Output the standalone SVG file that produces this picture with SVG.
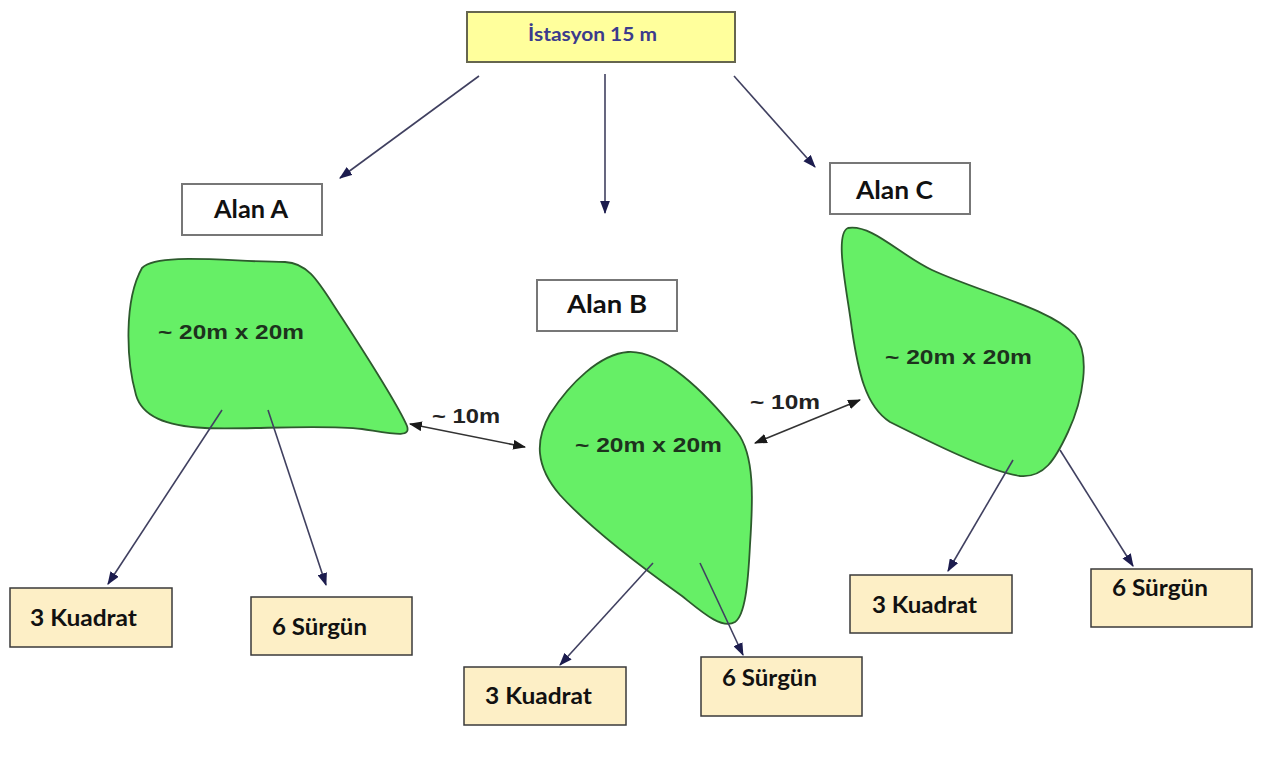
<svg xmlns="http://www.w3.org/2000/svg" width="1262" height="763" viewBox="0 0 1262 763">
<defs>
<marker id="ah" viewBox="0 0 12 9" refX="11" refY="4.5" markerWidth="13" markerHeight="10" markerUnits="userSpaceOnUse" orient="auto-start-reverse">
<path d="M0,0 L12,4.5 L0,9 Z" fill="#1c1c4e"/>
</marker>
<marker id="ahk" viewBox="0 0 12 9" refX="11" refY="4.5" markerWidth="13" markerHeight="10" markerUnits="userSpaceOnUse" orient="auto-start-reverse">
<path d="M0,0 L12,4.5 L0,9 Z" fill="#1a1a1a"/>
</marker>
</defs>
<style>
.lbl{font-family:"Lato","Open Sans","Liberation Sans",sans-serif;font-weight:bold;fill:#111;}
.area{font-family:"Lato","Open Sans","Liberation Sans",sans-serif;font-weight:bold;font-size:24px;fill:#111;}
.dim{font-family:"Liberation Sans","Arial",sans-serif;font-weight:bold;font-size:21px;fill:#1d321d;}
.dist{font-family:"Liberation Sans","Arial",sans-serif;font-weight:bold;font-size:20px;fill:#222;}
.blob{fill:#66ef66;stroke:#2d5a2d;stroke-width:1.8;}
.abox{fill:#ffffff;stroke:#777;stroke-width:2;}
.rbox{fill:#fdefc6;stroke:#3a3a3a;stroke-width:1.5;}
.conn{stroke:#404060;stroke-width:1.6;fill:none;marker-end:url(#ah);}
.dbl{stroke:#333;stroke-width:1.6;fill:none;marker-start:url(#ahk);marker-end:url(#ahk);}
</style>
<rect width="1262" height="763" fill="#ffffff"/>

<g id="blobA">
<path class="blob" d="M142,268 C158,252 232,262 285,262 C310,263 320,285 342,318 C366,355 398,405 407,426 C411,438 395,434 362,429 C320,424 245,430 205,428 C165,426 142,416 136,395 C126,360 124,300 142,268 Z"/>
<text class="dim" x="158" y="339" textLength="146" lengthAdjust="spacingAndGlyphs">~ 20m x 20m</text>
</g>
<g id="blobB">
<path class="blob" d="M628,352 C662,350 705,392 737,432 C755,455 753,500 750,545 C748,585 745,615 735,622 C722,630 702,612 682,596 C640,566 592,530 560,495 C535,466 535,440 550,414 C570,383 600,354 628,352 Z"/>
<text class="dim" x="575" y="452" textLength="147" lengthAdjust="spacingAndGlyphs">~ 20m x 20m</text>
</g>
<g id="blobC">
<path class="blob" d="M848,228 C872,224 900,255 932,270 C982,293 1050,308 1075,335 C1091,355 1083,400 1068,432 C1055,460 1044,478 1020,476 C990,472 930,442 890,422 C865,406 858,370 852,330 C847,290 834,234 848,228 Z"/>
<text class="dim" x="885" y="364" textLength="147" lengthAdjust="spacingAndGlyphs">~ 20m x 20m</text>
</g>

<g id="connectors">
<line class="conn" x1="479" y1="76" x2="340" y2="178"/>
<line class="conn" x1="605" y1="74" x2="605" y2="213"/>
<line class="conn" x1="734" y1="76" x2="815" y2="167"/>
<line class="conn" x1="222" y1="410" x2="108" y2="584"/>
<line class="conn" x1="268" y1="410" x2="326" y2="585"/>
<line class="conn" x1="653" y1="563" x2="560" y2="665"/>
<line class="conn" x1="700" y1="563" x2="743" y2="655"/>
<line class="conn" x1="1013" y1="460" x2="948" y2="571"/>
<line class="conn" x1="1060" y1="450" x2="1133" y2="566"/>
<line class="dbl" x1="410" y1="424" x2="525" y2="447"/>
<line class="dbl" x1="755" y1="443" x2="860" y2="400"/>
<text class="dist" x="432" y="423" textLength="68" lengthAdjust="spacingAndGlyphs">~ 10m</text>
<text class="dist" x="750" y="409" textLength="70" lengthAdjust="spacingAndGlyphs">~ 10m</text>
</g>

<g id="station">
<rect x="467" y="12" width="268" height="50" fill="#ffff9c" stroke="#66664f" stroke-width="2"/>
<text class="lbl" x="528" y="41" font-size="19" textLength="129" lengthAdjust="spacingAndGlyphs" style="fill:#3b3b8c">İstasyon 15 m</text>
</g>
<g id="alanA">
<rect class="abox" x="182" y="184" width="140" height="51"/>
<text class="area" x="214" y="218" textLength="74" lengthAdjust="spacingAndGlyphs">Alan A</text>
</g>
<g id="alanB">
<rect class="abox" x="537" y="280" width="140" height="51"/>
<text class="area" x="567" y="313" textLength="80" lengthAdjust="spacingAndGlyphs">Alan B</text>
</g>
<g id="alanC">
<rect class="abox" x="830" y="163" width="140" height="51"/>
<text class="area" x="856" y="199" textLength="77" lengthAdjust="spacingAndGlyphs">Alan C</text>
</g>

<g id="kuadratA">
<rect class="rbox" x="10" y="588" width="162" height="59"/>
<text class="lbl" x="30" y="626" font-size="22" textLength="107" lengthAdjust="spacingAndGlyphs">3 Kuadrat</text>
</g>
<g id="surgunA">
<rect class="rbox" x="251" y="597" width="161" height="58"/>
<text class="lbl" x="272" y="635" font-size="22" textLength="95" lengthAdjust="spacingAndGlyphs">6 Sürgün</text>
</g>
<g id="kuadratB">
<rect class="rbox" x="464" y="667" width="162" height="58"/>
<text class="lbl" x="485" y="704" font-size="22" textLength="107" lengthAdjust="spacingAndGlyphs">3 Kuadrat</text>
</g>
<g id="surgunB">
<rect class="rbox" x="701" y="657" width="161" height="59"/>
<text class="lbl" x="722" y="686" font-size="22" textLength="95" lengthAdjust="spacingAndGlyphs">6 Sürgün</text>
</g>
<g id="kuadratC">
<rect class="rbox" x="850" y="575" width="162" height="58"/>
<text class="lbl" x="872" y="613" font-size="22" textLength="105" lengthAdjust="spacingAndGlyphs">3 Kuadrat</text>
</g>
<g id="surgunC">
<rect class="rbox" x="1091" y="569" width="161" height="58"/>
<text class="lbl" x="1112" y="596" font-size="22" textLength="96" lengthAdjust="spacingAndGlyphs">6 Sürgün</text>
</g>
</svg>
